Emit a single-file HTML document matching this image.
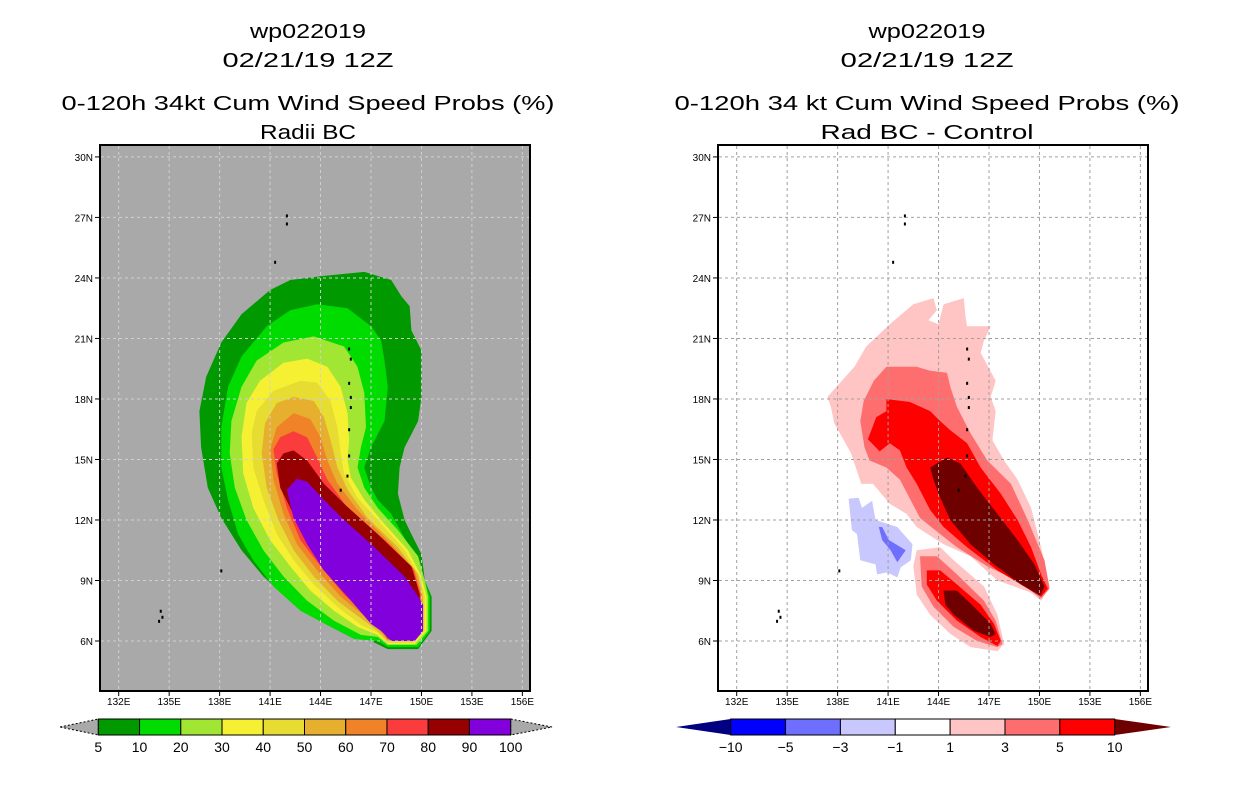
<!DOCTYPE html>
<html><head><meta charset="utf-8">
<style>
html,body{margin:0;padding:0;background:#fff;}
svg{display:block;}
text{font-family:"Liberation Sans","DejaVu Sans",sans-serif;fill:#000;}
.t{font-size:20px;text-anchor:middle;}
.ax{font-size:10px;}
.cb{font-size:14px;text-anchor:middle;}
</style></head>
<body>
<svg id="svg" width="1236" height="800" viewBox="0 0 1236 800" xmlns="http://www.w3.org/2000/svg">
<g>
<text class="t" x="308" y="38" textLength="116" lengthAdjust="spacingAndGlyphs">wp022019</text>
<text class="t" x="308" y="67" textLength="171" lengthAdjust="spacingAndGlyphs">02/21/19 12Z</text>
<text class="t" x="308" y="110" textLength="493" lengthAdjust="spacingAndGlyphs">0-120h 34kt Cum Wind Speed Probs (%)</text>
<text class="t" x="308" y="139" textLength="96" lengthAdjust="spacingAndGlyphs">Radii BC</text>
</g>
<g>
<text class="t" x="927" y="38" textLength="117" lengthAdjust="spacingAndGlyphs">wp022019</text>
<text class="t" x="927" y="67" textLength="173" lengthAdjust="spacingAndGlyphs">02/21/19 12Z</text>
<text class="t" x="927" y="110" textLength="505" lengthAdjust="spacingAndGlyphs">0-120h 34 kt Cum Wind Speed Probs (%)</text>
<text class="t" x="927" y="139" textLength="213" lengthAdjust="spacingAndGlyphs">Rad BC - Control</text>
</g>
<g id="left"></g>
<g id="right"></g>
<g id="lcb"></g>
<g id="rcb"></g>
</svg>
<script>
const lonTicks=[132,135,138,141,144,147,150,153,156];
const latTicks=[6,9,12,15,18,21,24,27,30];
const leftLevels=["5","10","20","30","40","50","60","70","80","90","100"];
const leftColors=["#009a00","#00dc00","#a0e632","#f5f032","#e6dc32","#e6af2d","#f08228","#fa3c3c","#960000","#8200dc"];
const rightLevels=["-10","-5","-3","-1","1","3","5","10"];
const rightColors=["#0000ff","#6e6eff","#c8c8ff","#ffffff","#ffc4c4","#ff6e6e","#ff0000"];
const rightLow="#000080", rightHigh="#6e0000";
const L5=[[146.6,24.3],[148.2,23.9],[148.8,23.1],[149.3,22.6],[149.4,21.4],[150,20.4],[150,18.1],[149.8,16.9],[149,15.6],[148.7,14.6],[148.6,13.3],[149,12],[149.4,11.3],[150,10.3],[150.2,9],[150.6,8.2],[150.6,6.5],[149.8,5.6],[148,5.6],[147,6],[145.8,6.5],[144,7.2],[142.2,8],[140.6,9.2],[139.3,10.5],[138.1,12.1],[137.3,13.6],[136.9,15.6],[136.8,17.4],[137.2,19.1],[138.1,20.8],[139.3,22.2],[141,23.4],[142.2,23.9],[144.2,24.1]];
const L10=[[143.8,22.7],[145.6,22.5],[147,21.6],[147.6,20.9],[147.8,19.9],[148,18.6],[147.8,16.9],[147,15.6],[146.6,14.6],[147,13.6],[147.4,13],[148.2,12.3],[149,11.1],[149.8,10],[150.2,9],[150.5,8.2],[150.5,6.5],[149.8,5.7],[148,5.7],[147.4,6],[146,6.1],[144.6,6.7],[142.8,7.5],[141.2,8.7],[140,10],[139.1,11.3],[138.5,13],[138.1,14.6],[138.1,16.6],[138.5,18.6],[139.3,20.1],[140.8,21.6],[142.2,22.4]];
const L20=[[143.6,21.1],[145.4,20.6],[146.2,19.6],[146.6,18.3],[146.7,16.6],[146.4,15.6],[146.2,14.6],[146.6,13.6],[147.4,12.6],[148.6,11.5],[149.8,10.2],[150.2,9],[150.4,8.2],[150.4,6.5],[149.7,5.8],[148,5.8],[147.4,6.2],[146.4,6.3],[144.8,7],[143.2,8],[141.8,9.2],[140.6,10.5],[139.6,12],[138.9,13.6],[138.6,15.3],[138.7,16.9],[139.3,18.6],[140.2,19.9],[141.8,20.8]];
const L30=[[143.2,20],[144.4,19.6],[145.2,18.6],[145.6,17.3],[145.7,15.95],[145.6,15],[145.8,14.1],[146.6,13],[147.8,11.8],[149.2,10.5],[150,9.2],[150.3,8.2],[150.3,6.5],[149.6,5.85],[148,5.85],[147.4,6.3],[146.2,6.7],[144.8,7.5],[143.4,8.5],[142.2,9.7],[141,11],[140,12.6],[139.4,14.3],[139.3,16.1],[139.6,17.8],[140.4,18.9],[141.8,19.8]];
const L40=[[142.8,18.9],[143.8,18.8],[144.6,17.9],[145,16.6],[145.2,15.3],[145.4,14.3],[146.2,13.1],[147.4,12],[149,10.5],[149.9,9.2],[150.2,8.2],[150.2,6.5],[149.5,5.9],[148,5.9],[147.4,6.4],[146.4,6.8],[145,7.7],[143.6,8.8],[142.4,10],[141.4,11.3],[140.6,13],[140,14.6],[139.9,16.3],[140.2,17.4],[141.2,18.4]];
const L50=[[142.4,18.1],[143.6,17.9],[144.2,17.1],[144.6,15.95],[145,14.6],[145.6,13.5],[146.8,12.1],[148.6,10.65],[149.8,9.3],[150.1,8.2],[150.1,6.5],[149.4,6],[148,6],[147.4,6.5],[145,8],[143.6,9.2],[142.4,10.5],[141.5,12],[140.8,13.6],[140.5,15.3],[140.7,16.8],[141.4,17.8]];
const L60=[[142.4,17.3],[143.4,17],[144,16.1],[144.4,14.95],[145,13.8],[146.2,12.5],[148.2,10.8],[149.6,9.5],[150,8.3],[150,6.5],[149.35,6.05],[148,6.05],[147.4,6.7],[145.2,8.2],[143.8,9.5],[142.6,10.8],[141.8,12.3],[141.2,14],[141,15.5],[141.4,16.6]];
const L70=[[142.4,16.4],[143.2,16.1],[143.8,15.1],[144.4,14],[145.6,12.6],[147.8,11],[149.5,9.6],[149.95,8.3],[149.95,6.5],[149.3,6.1],[148,6.1],[147.4,6.8],[145.4,8.3],[144,9.7],[142.8,11],[142,12.6],[141.4,14.3],[141.2,15.5],[141.6,16.1]];
const L80=[[142.4,15.45],[143.2,14.95],[144.2,13.8],[145.4,12.8],[147.4,11.3],[149.4,9.7],[149.9,8.3],[149.9,6.5],[149.2,6.15],[148,6.15],[147.4,6.85],[145.6,8.5],[144.2,9.8],[143,11.2],[142.2,12.6],[141.6,13.6],[141.4,14.8],[141.8,15.3]];
const L90=[[142.6,14.05],[143.2,13.9],[144.2,13],[145.4,12],[147.2,10.65],[149,9.2],[149.8,8.2],[150.1,7.8],[150.1,6.5],[149.6,6],[148.2,6],[147.6,6.5],[147,6.85],[145.6,8.2],[144.2,9.5],[143.2,10.8],[142.4,12.1],[142,13.5]];
const R1a=[[142.5,22.7],[143.7,23],[143.9,22.4],[143.4,21.9],[144,21.7],[144.3,22.7],[145.5,23],[145.6,22.1],[145.7,21.6],[147.1,21.6],[146.7,20.9],[146.5,20.3],[147.4,18.9],[147.1,18.1],[147.4,17.4],[147.2,15.95],[147.9,14.95],[148.7,14],[149.5,12.6],[150.1,10.65],[150.6,8.7],[150.1,8],[149.5,8.4],[147.5,9],[145.9,10.2],[144.3,10.8],[142.7,11.65],[142.1,12.3],[141.1,12.8],[140.1,13.8],[139.4,13.8],[138.8,15.3],[137.8,16.8],[137.6,17.6],[137.4,18.1],[139,19.6],[139.7,20.6],[141.1,21.7]];
const R1b=[[142.7,10.5],[144.1,10.65],[144.9,10],[146.7,8.7],[147.5,7.3],[147.9,5.85],[147.5,5.5],[145.9,5.7],[144.7,6.35],[143.5,7.3],[142.7,8.3],[142.5,9.7]];
const R3a=[[140.9,19.6],[142.7,19.6],[143.5,19.4],[144.5,19.3],[144.7,18.6],[145.1,17.6],[145.9,16.3],[146.9,14.95],[148.3,13.8],[149.3,12],[150.3,10],[150.6,8.6],[150.1,8.1],[148.7,9],[146.9,9.7],[145.1,10.65],[144.1,11.3],[142.9,12.1],[141.7,14],[140.9,14.6],[139.9,14.95],[139.6,15.6],[139.35,16.9],[139.55,17.9],[140.15,18.9]];
const R3b=[[142.9,10.2],[143.9,10.2],[145.1,9.3],[146.7,8],[147.4,7],[147.8,5.85],[147.5,5.7],[146.3,6],[144.9,6.7],[143.7,7.7],[143,8.7]];
const R5a=[[140.9,18],[142.3,17.85],[143.5,17.4],[144.1,16.9],[144.7,16.45],[145.7,15.8],[146.5,14.6],[147.7,13.3],[148.7,12],[149.5,10.65],[150.1,9.3],[150.5,8.6],[150.1,8.2],[149.1,8.7],[147.5,9.5],[145.7,10.65],[144.3,11.65],[143.5,12.5],[142.7,13.8],[142.1,14.6],[141.7,15.45],[141.1,15.8],[140.5,15.4],[139.8,16],[140.3,17.1],[140.9,17.4]];
const R5b=[[143.3,9.5],[144.1,9.5],[145.1,8.8],[146.5,7.8],[147.3,6.85],[147.7,6],[147.5,5.75],[146.5,6.2],[145.1,7],[143.9,8],[143.3,8.8]];
const R10a=[[143.5,14.6],[144.5,15.1],[145.3,14.8],[146.3,13.6],[147.5,12.3],[148.7,11],[149.7,9.8],[150.3,8.7],[150.05,8.25],[148.9,8.8],[147.3,9.8],[145.9,10.8],[144.7,12],[144.1,13.1],[143.7,14]];
const R10b=[[144.3,8.5],[145.1,8.5],[146.1,7.7],[147.1,6.85],[147.4,6.35],[147.1,6.2],[146.1,6.5],[144.9,7.3],[144.4,7.8]];
const Rm1=[[138.65,13.05],[139.25,13.1],[139.45,12.6],[140.05,12.95],[140.25,12],[141.55,11.65],[142.45,10.8],[142.35,10],[141.75,9.65],[141.55,9.15],[140.95,9.4],[140.35,9.3],[140.25,9.8],[139.35,10],[139.15,11.3],[138.85,11.5]];
const Rm3=[[140.45,11.65],[140.65,11.65],[141.05,11],[142.05,10.5],[141.55,9.9],[141.15,10.5],[140.65,11]];
const islands=[[142.0,27.1],[142.0,26.7],[141.3,24.8],[138.1,9.5],[134.5,7.5],[134.6,7.2],[134.4,7.0],[145.7,20.5],[145.8,20.0],[145.7,18.8],[145.8,18.1],[145.8,17.6],[145.7,16.5],[145.7,15.2],[145.6,14.2],[145.2,13.5]];

const NS="http://www.w3.org/2000/svg";
function el(tag,attrs,parent){const e=document.createElementNS(NS,tag);for(const k in attrs)e.setAttribute(k,attrs[k]);parent.appendChild(e);return e;}
const Y=lat=>641+(6-lat)*20.17;

function drawMap(g,x0,x1,lon132,bg){
  const X=lon=>lon132+(lon-132)*16.82;
  const r=el('rect',{x:x0,y:145,width:x1-x0,height:546,fill:bg},g);
  
  
  return X;
}
function poly(g,pts,X,fill,name){
  const p=el('polygon',{points:pts.map(q=>X(q[0]).toFixed(1)+','+Y(q[1]).toFixed(1)).join(' '),fill:fill},g);
  
  
}
function frame(g,x0,x1,X,gridColor){
  const gg=el('g',{},g);
  
  
  lonTicks.forEach(l=>{const x=X(l);el('line',{x1:x,x2:x,y1:146,y2:690,stroke:gridColor,'stroke-width':1,'stroke-dasharray':'3,3'},gg);});
  latTicks.forEach(l=>{const y=Y(l);el('line',{x1:x0+1,x2:x1-1,y1:y,y2:y,stroke:gridColor,'stroke-width':1,'stroke-dasharray':'3,3'},gg);});
  islands.forEach(q=>{el('rect',{x:X(q[0])-1,y:Y(q[1])-1,width:2,height:3,fill:'#000'},gg);});
  const b=el('rect',{x:x0,y:145,width:x1-x0,height:546,fill:'none',stroke:'#000','stroke-width':2},g);
  
  
  lonTicks.forEach(l=>{const x=X(l);el('line',{x1:x,x2:x,y1:691,y2:696,stroke:'#000'},g);
    const t=el('text',{x:x,y:705,class:'ax','text-anchor':'middle'},g);t.textContent=l+'E';
    
    });
  latTicks.forEach(l=>{const y=Y(l);el('line',{x1:x0-5,x2:x0,y1:y,y2:y,stroke:'#000'},g);
    const t=el('text',{x:x0-7,y:y+4,class:'ax','text-anchor':'end'},g);t.textContent=l+'N';
    
    });
}
const gl=document.getElementById('left');
const XL=drawMap(gl,100,530,118.7,'#a9a9a9');
[L5,L10,L20,L30,L40,L50,L60,L70,L80,L90].forEach((c,i)=>poly(gl,c,XL,leftColors[i],'contour-'+leftLevels[i]));
frame(gl,100,530,XL,'#d0d0d0');
const gr=document.getElementById('right');
const XR=drawMap(gr,718,1148,736.7,'#ffffff');
poly(gr,R1a,XR,rightColors[4],'contour-1-main');
poly(gr,R1b,XR,rightColors[4],'contour-1-south');
poly(gr,R3a,XR,rightColors[5],'contour-3-main');
poly(gr,R3b,XR,rightColors[5],'contour-3-south');
poly(gr,R5a,XR,rightColors[6],'contour-5-main');
poly(gr,R5b,XR,rightColors[6],'contour-5-south');
poly(gr,R10a,XR,rightHigh,'contour-10-main');
poly(gr,R10b,XR,rightHigh,'contour-10-south');
poly(gr,Rm1,XR,rightColors[2],'contour-minus1');
poly(gr,Rm3,XR,rightColors[1],'contour-minus3');
frame(gr,718,1148,XR,'#a0a0a0');
function colorbar(g,x0,x1,tipL,tipR,colors,labels,triL,triR,dashed){
  const w=(x1-x0)/colors.length;
  const a=el('polygon',{points:`${tipL},727 ${x0},719 ${x0},735`,fill:triL,stroke:dashed?'#000':'none','stroke-width':1,'stroke-dasharray':dashed?'2,2':''},g);
  
  
  const b=el('polygon',{points:`${tipR},727 ${x1},719 ${x1},735`,fill:triR,stroke:dashed?'#000':'none','stroke-width':1,'stroke-dasharray':dashed?'2,2':''},g);
  
  
  colors.forEach((c,i)=>{const r=el('rect',{x:x0+i*w,y:719,width:w,height:16,fill:c,stroke:'#000','stroke-width':1},g);
    
    });
  labels.forEach((s,i)=>{const x=x0+i*w;
    const t=el('text',{x:x,y:752,class:'cb'},g);t.textContent=s.replace('-','\u2212');
    
    });
}
colorbar(document.getElementById('lcb'),98.3,510.7,60,552,leftColors,leftLevels,'#a9a9a9','#a9a9a9',true);
colorbar(document.getElementById('rcb'),730.7,1114.7,676,1171,rightColors,rightLevels,rightLow,rightHigh,false);
</script>
</body></html>
